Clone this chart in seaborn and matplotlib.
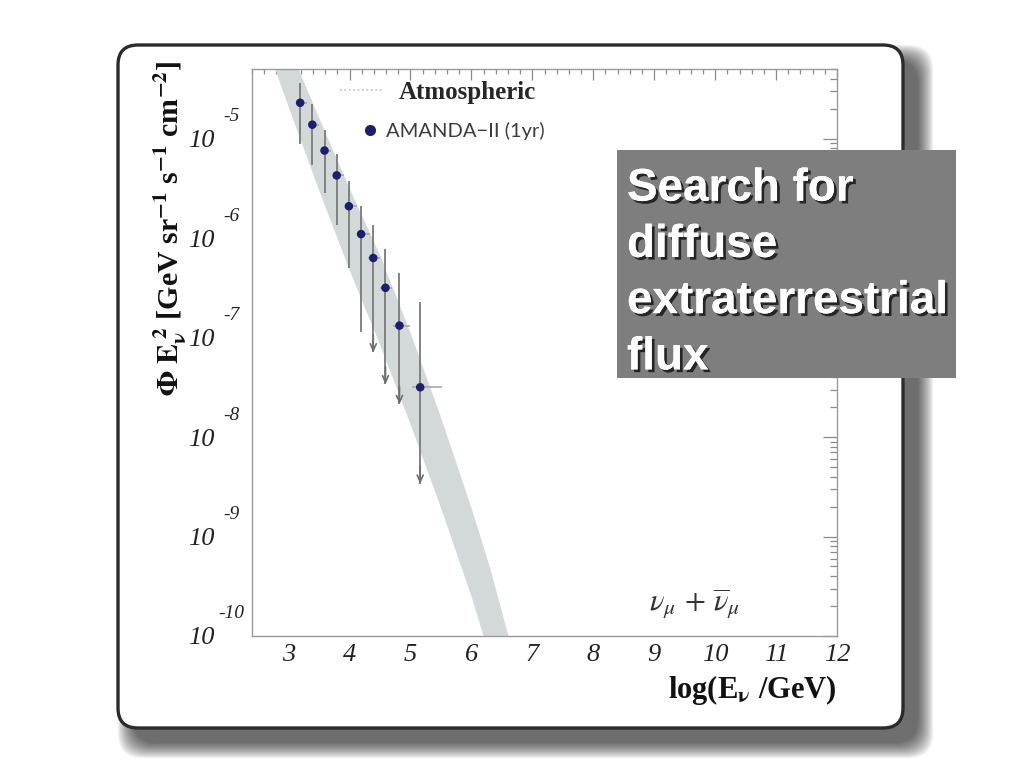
import numpy as np
import pandas as pd
import seaborn as sns
import matplotlib
matplotlib.use("Agg")
import matplotlib.pyplot as plt
import matplotlib.ticker as mticker
import matplotlib.transforms as mtransforms
import matplotlib.patheffects as pe
from matplotlib.patches import FancyBboxPatch, Rectangle
from matplotlib.lines import Line2D

# ---------------- data ----------------
log_energy = [3.19, 3.39, 3.59, 3.79, 3.99, 4.19, 4.39, 4.59, 4.82, 5.16]
flux_exp = [-4.64, -4.86, -5.12, -5.37, -5.68, -5.96, -6.20, -6.50, -6.88, -7.50]
err_top_exp = [-4.44, -4.65, -4.91, -5.15, -5.43, -5.68, -5.87, -6.11, -6.35, -6.64]
err_bot_exp = [-5.05, -5.27, -5.55, -5.87, -6.30, -6.94, -7.15, -7.47, -7.67, -8.47]
upper_limit = [False, False, False, False, False, False, True, True, True, True]
xerr_left = [0.06, 0.05, 0.06, 0.06, 0.07, 0.07, 0.08, 0.09, 0.11, 0.14]
xerr_right = [0.11, 0.11, 0.11, 0.12, 0.13, 0.14, 0.11, 0.10, 0.17, 0.35]

band_low_x = [2.60, 2.78, 3.00, 3.50, 4.00, 4.50, 5.00, 5.50, 6.00, 6.20, 6.30]
band_low_exp = [-4.00, -4.30, -4.68, -5.52, -6.32, -7.07, -7.87, -8.71, -9.60, -10.00, -10.20]
band_up_x = [2.97, 3.17, 3.50, 4.00, 4.50, 5.00, 5.50, 6.00, 6.30, 6.60, 6.70]
band_up_exp = [-4.00, -4.31, -4.79, -5.50, -6.17, -6.95, -7.80, -8.71, -9.30, -9.98, -10.20]

x_ticks = [3, 4, 5, 6, 7, 8, 9, 10, 11, 12]
y_tick_exps = [-10, -9, -8, -7, -6, -5]

df = pd.DataFrame({
    "logE": log_energy,
    "flux": 10.0 ** np.array(flux_exp),
    "top": 10.0 ** np.array(err_top_exp),
    "bot": 10.0 ** np.array(err_bot_exp),
    "limit": upper_limit,
    "xl": np.array(log_energy) - np.array(xerr_left),
    "xr": np.array(log_energy) + np.array(xerr_right),
})

# ---------------- style ----------------
sns.set_theme(style="white")
plt.rcParams["font.family"] = ["Liberation Serif", "DejaVu Serif"]
plt.rcParams["mathtext.fontset"] = "stix"

fig = plt.figure(figsize=(10.24, 7.68), dpi=100)
fig.patch.set_facecolor("white")

# slide panel with soft shadow towards lower right (inches)
px0, py0, pw, ph = 1.18, 0.40, 7.85, 6.83
for k in range(18):
    grow = k * 0.009
    fig.patches.append(FancyBboxPatch(
        (px0 + 0.15 - grow, py0 - 0.15 - grow), pw + 2 * grow, ph + 2 * grow,
        boxstyle="round,pad=0,rounding_size=0.25",
        transform=fig.dpi_scale_trans, fc="black", ec="none", alpha=0.045, zorder=-5))
fig.patches.append(FancyBboxPatch(
    (px0, py0), pw, ph, boxstyle="round,pad=0,rounding_size=0.2",
    transform=fig.dpi_scale_trans, fc="white", ec="#2b2b2b", lw=2.4, zorder=-4))

ax = fig.add_axes([0.2461, 0.1719, 0.5713, 0.7383])
ax.set_facecolor("white")
ax.set_yscale("log")

# atmospheric band
ax.fill(np.r_[band_low_x, band_up_x[::-1]],
        np.r_[10.0 ** np.array(band_low_exp), 10.0 ** np.array(band_up_exp)[::-1]],
        color="#d3d9d9", lw=0, zorder=1)

# error bars
ax.hlines(df["flux"], df["xl"], df["xr"], color="#a8a8a8", lw=1.2, zorder=2)
ax.vlines(df["logE"], df["bot"], df["top"], color="#7a7a7a", lw=1.3, zorder=2)
for _, r in df[df["limit"]].iterrows():
    ax.annotate("", xy=(r["logE"], r["bot"]), xytext=(r["logE"], r["bot"] * 1.5),
                arrowprops=dict(arrowstyle="->,head_length=0.4,head_width=0.18",
                                color="#6e6e6e", lw=1.2, shrinkA=0, shrinkB=0), zorder=2)

sns.scatterplot(data=df, x="logE", y="flux", ax=ax, color="#1e1e6e", s=38,
                edgecolor="none", zorder=4, legend=False)

ax.set_xlim(2.4, 12)
ax.set_ylim(1e-10, 10 ** -4.3)

# ticks
ax.xaxis.set_major_locator(mticker.FixedLocator(x_ticks))
ax.xaxis.set_minor_locator(mticker.MultipleLocator(0.2))
ax.yaxis.set_major_locator(mticker.FixedLocator([10.0 ** e for e in y_tick_exps]))
ax.yaxis.set_minor_locator(mticker.LogLocator(base=10, subs=np.arange(2, 10)))
ax.yaxis.set_minor_formatter(mticker.NullFormatter())
ax.yaxis.set_major_formatter(mticker.FixedFormatter(["10"] * len(y_tick_exps)))
ax.tick_params(axis="both", which="both", direction="in", top=True, right=True,
               color="#8a8a8a", width=0.9)
ax.tick_params(axis="x", which="major", length=8, labelsize=19, pad=6)
ax.tick_params(axis="x", which="minor", length=3.6)
ax.tick_params(axis="y", which="major", length=10, labelsize=19, pad=27)
ax.tick_params(axis="y", which="minor", length=5)
for lab in ax.get_xticklabels() + ax.get_yticklabels():
    lab.set_fontstyle("italic")
    lab.set_color("#222222")
for s in ax.spines.values():
    s.set_color("#9a9a9a")
    s.set_linewidth(1.0)

# exponents of y tick labels
trans = mtransforms.blended_transform_factory(ax.transAxes, ax.transData)
trans = mtransforms.offset_copy(trans, fig=fig, x=0, y=22, units="dots")
for e in y_tick_exps:
    ax.text(-0.036, 10.0 ** e, f"-{abs(e)}", transform=trans, ha="center", va="center",
            fontsize=14, fontstyle="italic", color="#222222")

# axis labels
ax.set_ylabel(r"$\mathbf{\Phi\ E_{\nu}^{\ 2}}$ [GeV sr$^{\mathbf{-1}}$ s$^{\mathbf{-1}}$ cm$^{\mathbf{-2}}$]",
              fontsize=21.5, fontweight="bold", loc="top", color="#111111")
ax.yaxis.set_label_coords(-0.108, 1.015)
ax.set_xlabel(r"log(E$_{\mathbf{\nu}}$ /GeV)", fontsize=22, fontweight="bold",
              loc="right", color="#111111")
ax.xaxis.set_label_coords(1.0, -0.066)

# legends
leg1 = ax.legend(handles=[Line2D([], [], ls=":", color="#bdbdbd", lw=1.2)],
                 labels=["Atmospheric"], loc="center left",
                 bbox_to_anchor=(0.150, 0.959), frameon=False, borderpad=0,
                 borderaxespad=0, handlelength=1.72, handletextpad=0.64,
                 prop=dict(family="Liberation Serif", weight="bold", size=18))
ax.add_artist(leg1)
leg2 = ax.legend(handles=[Line2D([], [], ls="none", marker="o", color="#1e1e6e", ms=7)],
                 labels=["AMANDA\u2212II (1yr)"], loc="center left",
                 bbox_to_anchor=(0.1846, 0.8907), frameon=False, borderpad=0,
                 borderaxespad=0, handlelength=1.0, handletextpad=0.3,
                 prop=dict(family="Lato", weight="normal", size=14.5))
for t in leg2.get_texts():
    t.set_color("#3c3c3c")

ax.text(9.66, 10 ** -9.68, r"$\nu_{\mu}\,+\,\overline{\nu}_{\mu}$", ha="center", va="center",
        fontsize=22, color="#333333")

# grey caption box
fig.patches.append(Rectangle((0.6025, 0.5078), 0.331, 0.2969, transform=fig.transFigure,
                             fc="#7e7e7e", ec="none", zorder=10))
fig.text(0.6123, 0.783, "Search for\ndiffuse\nextraterrestrial\nflux",
         family="Liberation Sans", weight="bold", fontsize=33, color="white",
         ha="left", va="top", linespacing=1.36, zorder=11,
         path_effects=[pe.withSimplePatchShadow(offset=(2, -2), shadow_rgbFace="black", alpha=0.7),
                       pe.Normal()])

fig.savefig("out.png", dpi=100)
